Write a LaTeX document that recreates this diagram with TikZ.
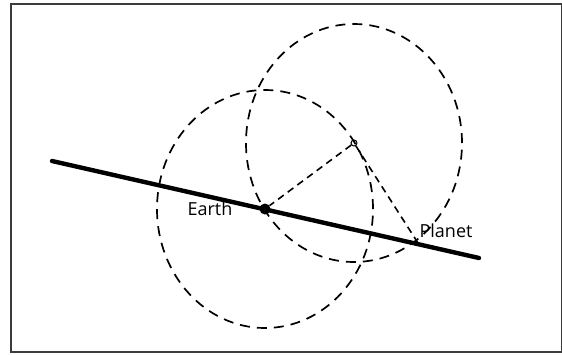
\documentclass[tikz,border=0pt]{standalone}
\usepackage{fontspec}
\setmainfont{Open Sans}
\usepackage{tikz}
\usetikzlibrary{positioning}
\definecolor{framegrey}{RGB}{60, 60, 60}

\begin{document}
\begin{tikzpicture}[
    x=1pt, y=-1pt,
    orbit/.style={line width=1.7pt, dash pattern=on 10pt off 7pt},
    spoke/.style={line width=1.6pt, dash pattern=on 7pt off 5pt},
    ecliptic/.style={line width=4.4pt, line cap=round},
    tag/.style={font=\fontsize{18}{21}\selectfont, anchor=base, inner sep=0pt},
]
    \useasboundingbox (0,0) rectangle (562,354);

    % Frame
    \draw[framegrey, line width=1.6pt] (11,4) rectangle (561.5,352);

    % Points
    \node[fill, circle, inner sep=0pt, minimum size=11pt] (earth) at (265,209) {};
    \node[draw, circle, inner sep=0pt, minimum size=6pt, line width=1pt] (centre) at (354,143) {};
    \coordinate (planet) at (418,243);
    \coordinate (west) at (52,161);
    \coordinate (east) at (479,258);

    % Deferent and epicycle
    \draw[orbit] (earth.center) ellipse [x radius=108pt, y radius=119pt];
    \draw[orbit] (centre.center) ellipse [x radius=108pt, y radius=119pt];

    % Line of sight
    \draw[ecliptic] (west) -- (east);

    % Radii
    \draw[spoke] (centre) -- (earth);
    \draw[spoke] (centre) -- (planet);

    % Labels
    \node[tag] (earthlabel) at (210,215) {Earth};
    \node[tag] (planetlabel) at (446,237) {Planet};
\end{tikzpicture}
\end{document}
